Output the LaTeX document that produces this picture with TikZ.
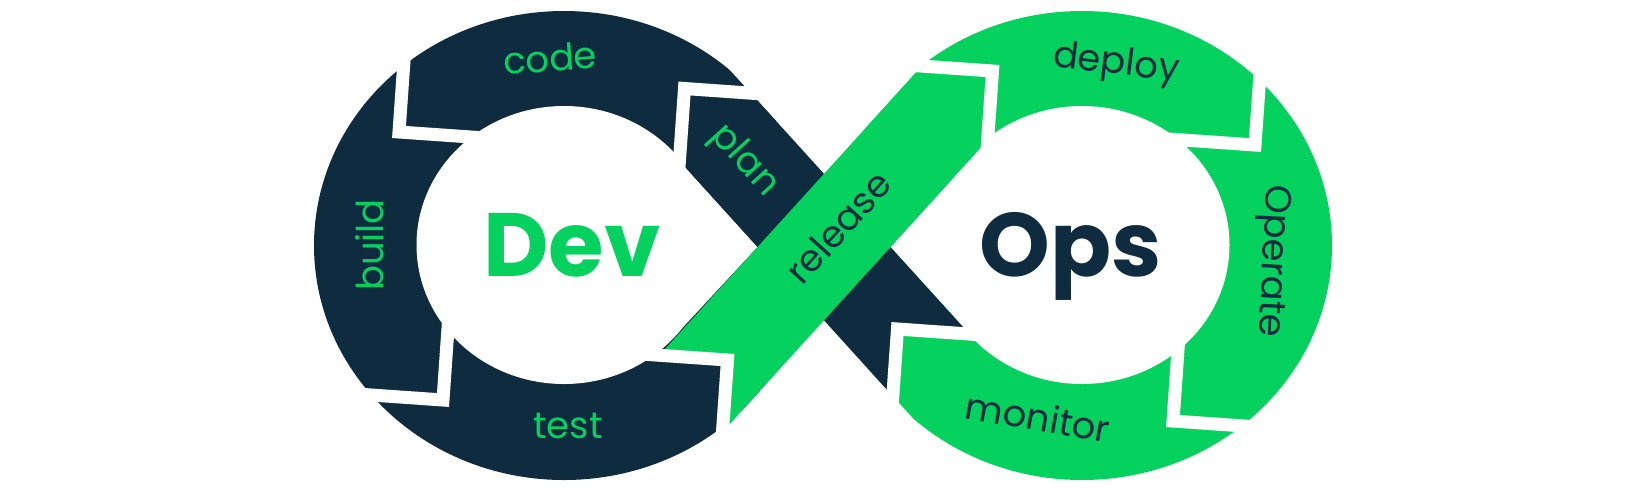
\documentclass[tikz,border=0pt]{standalone}
\usepackage{fontspec}
\setmainfont{Poppins}
\newfontfamily\labfont{Poppins}
\definecolor{navy}{RGB}{14,43,63}
\definecolor{lime}{RGB}{5,209,94}
\begin{document}
\begin{tikzpicture}[x=1pt,y=-1pt,
  lbl/.style={font=\labfont\fontsize{37}{40}\selectfont, inner sep=0pt},
  big/.style={font=\bfseries\fontsize{90}{90}\selectfont, inner sep=0pt, anchor=base},
  gap/.style={draw=white, line width=13pt, line join=miter}]
\useasboundingbox (0,0) rectangle (1650,491);
\fill[white] (0,0) rectangle (1650,491);
% outer rings, cut straight along the band edges
\begin{scope}
  \clip (0,-100) -- (575.3,-100) -- (890.5,247) -- (569.9,600) -- (0,600) -- cycle;
  \fill[navy] (564,245.5) ellipse [x radius=250, y radius=234.5];
\end{scope}
\begin{scope}
  \clip (1700,-100) -- (1072.7,-100) -- (757.5,247) -- (1078.1,600) -- (1700,600) -- cycle;
  \fill[lime] (1082,245.5) ellipse [x radius=250, y radius=234.5];
\end{scope}
% holes
\fill[white] (564,245) ellipse [x radius=147.5, y radius=139];
\fill[white] (564,245) -- (676,157) -- (757.5,247) -- (673,338) -- cycle;
\fill[white] (1082,245) ellipse [x radius=147.5, y radius=139];
\fill[white] (1082,245) -- (974.2,155) -- (890.5,247) -- (970.6,335) -- cycle;
% diagonal bands
\fill[navy] (747.9,90) -- (969.4,334.0) -- (897.5,329) -- (892.8,396.2) -- (676.9,158.1) -- cycle;
\fill[lime] (659.3,355.2) -- (727.5,360) -- (722.5,432.0) -- (987.7,140.0) -- (992.5,71) -- (921.9,66.1) -- cycle;
% gaps between segments
\draw[gap] (764.3,94.1) -- (684.5,88.5) -- (678.2,178.3);
\draw[gap] (404.6,52.2) -- (399,132) -- (493.8,138.6);
\draw[gap] (358.2,394.1) -- (443,400) -- (449.6,305.2);
\draw[gap] (632.7,353.4) -- (727.5,360) -- (721.2,449.8);
\draw[gap] (897.7,64.4) -- (992.5,71) -- (986.2,160.8);
\draw[gap] (1261.3,55.2) -- (1255,145) -- (1160.2,138.4);
\draw[gap] (1262.8,427.3) -- (1173,421) -- (1179.3,331.2);
\draw[gap] (891.2,418.8) -- (897.5,329) -- (987.3,335.3);
% labels
\node[lbl, text=lime, rotate=4] (code) at (550,58) {code};
\node[lbl, text=lime, rotate=-47.8] (plan) at (744,161) {plan};
\node[lbl, text=lime, rotate=90] (build) at (370,245) {build};
\node[lbl, text=lime] (test) at (568,426) {test};
\node[lbl, text=navy, rotate=47.8] (release) at (838,227) {release};
\node[lbl, text=navy, rotate=-7] (deploy) at (1116,65) {deploy};
\node[lbl, text=navy, rotate=-93] (operate) at (1271,261) {Operate};
\node[lbl, text=navy, rotate=-10] (monitor) at (1038,417) {monitor};
\node[big, text=lime] (dev) at (572,276) {Dev};
\node[big, text=navy] (ops) at (1071,276) {Ops};
\end{tikzpicture}
\end{document}
